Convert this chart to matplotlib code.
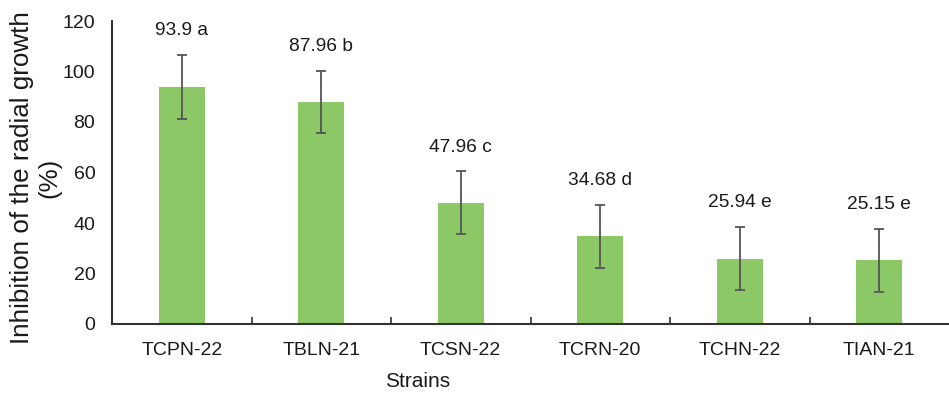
import matplotlib
matplotlib.use("Agg")
import matplotlib.pyplot as plt
import numpy as np

strains = ["TCPN-22", "TBLN-21", "TCSN-22", "TCRN-20", "TCHN-22", "TIAN-21"]
inhibition = [93.9, 87.96, 47.96, 34.68, 25.94, 25.15]
errors = [12.6, 12.4, 12.5, 12.6, 12.5, 12.5]
letters = ["a", "b", "c", "d", "e", "e"]
yticks = [0, 20, 40, 60, 80, 100, 120]

plt.rcParams['font.family'] = ['Liberation Sans', 'DejaVu Sans']

fig = plt.figure(figsize=(9.49, 3.94), dpi=100)
ax = fig.add_axes([112/949, 70/394, 837/949, 303/394])

x = np.arange(len(strains))
ax.bar(x, inhibition, width=0.33, color='#8CC866', zorder=2)
ax.errorbar(x, inhibition, yerr=errors, fmt='none', ecolor='#555555',
            elinewidth=1.3, capsize=3.8, capthick=1.3, zorder=3)

for xi, v, e, l in zip(x, inhibition, errors, letters):
    ax.annotate(f"{v:g} {l}", xy=(xi, v + e), xytext=(0, 17.5),
                textcoords='offset points', ha='center', va='center',
                fontsize=13.8, color='#1a1a1a')

ax.set_xlim(-0.5, len(strains) - 0.5)
ax.set_ylim(0, 120)
ax.set_yticks(yticks)
ax.set_xticks(x)
ax.set_xticklabels(strains)
ax.set_xticks(np.arange(len(strains) - 1) + 0.5, minor=True)
ax.tick_params(axis='x', which='major', length=0, pad=13, labelsize=14, colors='#1a1a1a')
ax.tick_params(axis='x', which='minor', length=5, direction='in', width=1.2, color='#333333')
ax.tick_params(axis='y', length=0, pad=12, labelsize=14, colors='#1a1a1a')

for s in ['top', 'right']:
    ax.spines[s].set_visible(False)
for s in ['left', 'bottom']:
    ax.spines[s].set_color('#333333')
    ax.spines[s].set_linewidth(1.5)

ax.set_ylabel("Inhibition of the radial growth\n(%)", fontsize=18.7, color='#1a1a1a',
              linespacing=1.15)
ax.yaxis.set_label_coords(-0.061, 0.482)
ax.set_xlabel("Strains", fontsize=15, color='#1a1a1a')
ax.xaxis.set_label_coords(0.365, -0.19)
ax.xaxis.label.set_va('center')

fig.savefig("out.png", dpi=100)
